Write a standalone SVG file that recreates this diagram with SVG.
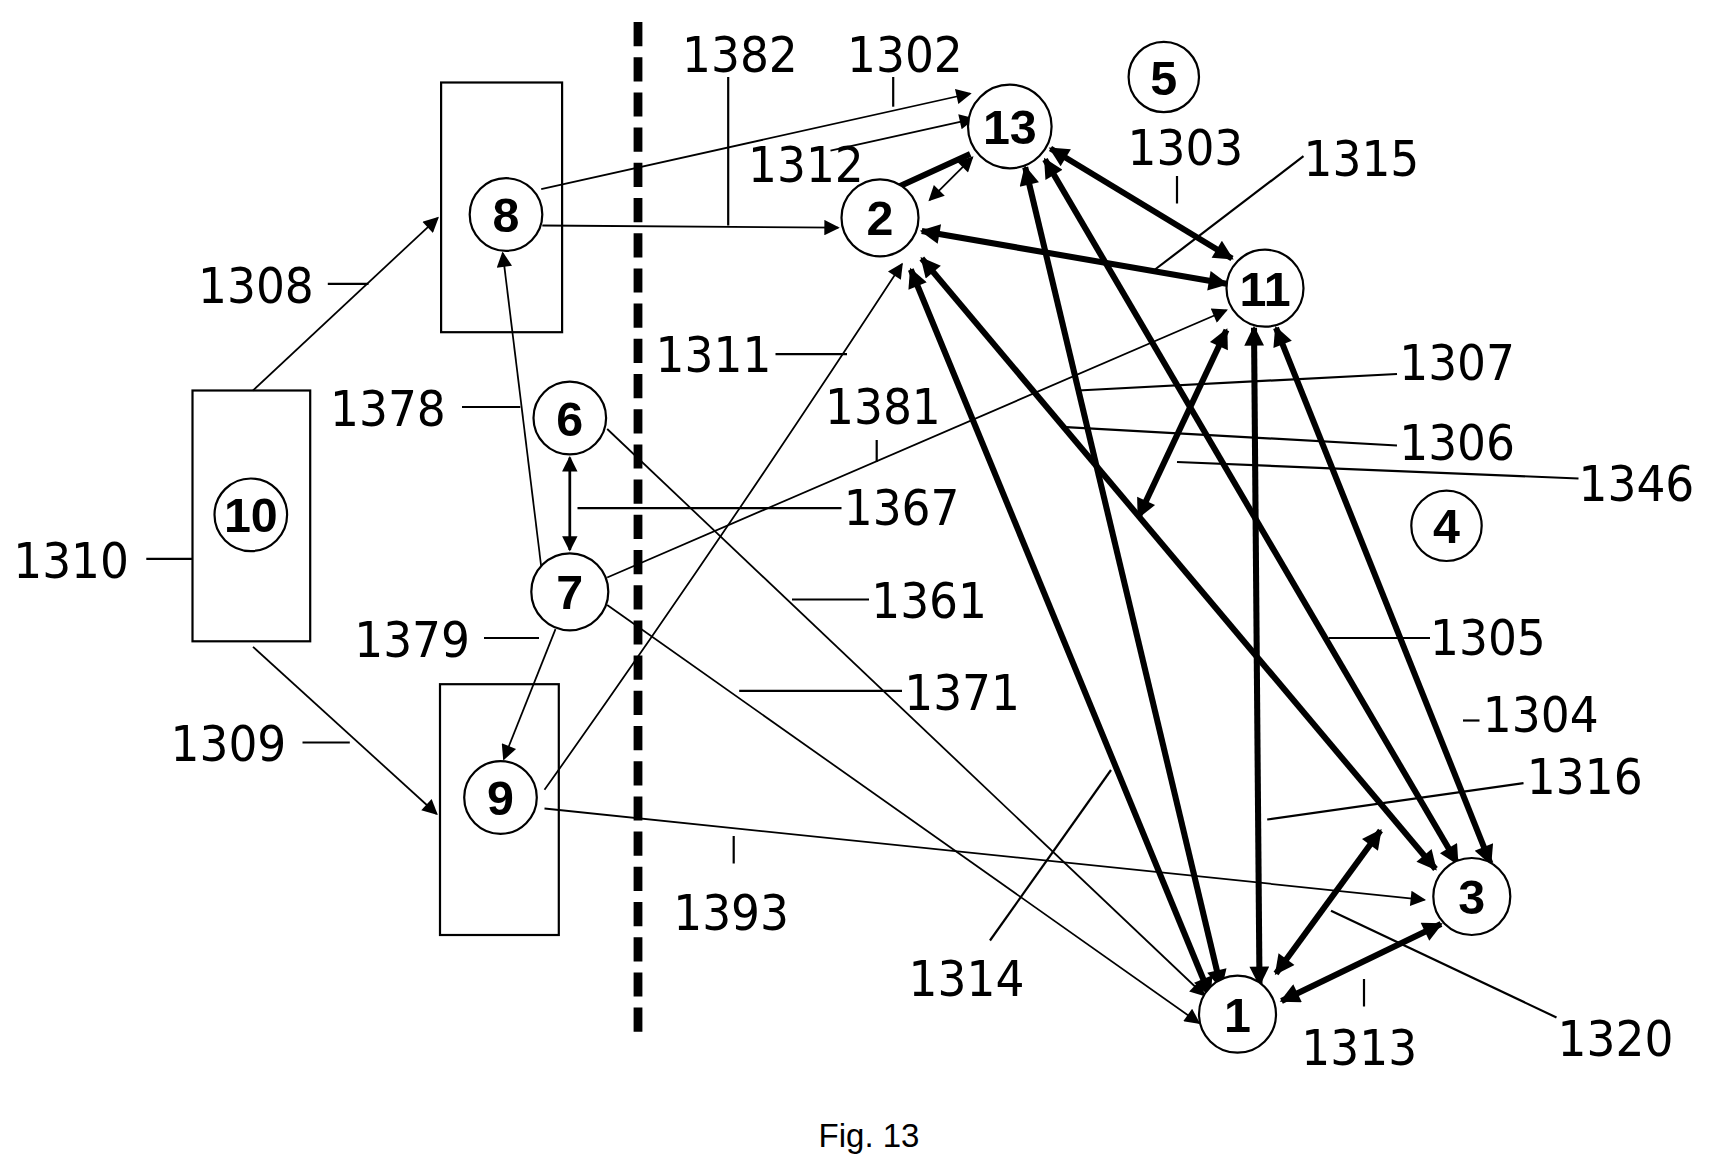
<svg xmlns="http://www.w3.org/2000/svg" width="1717" height="1175" viewBox="0 0 1717 1175">
<defs>
<marker id="a" viewBox="0 0 10 10" refX="9" refY="5" markerWidth="18" markerHeight="14" markerUnits="userSpaceOnUse" orient="auto-start-reverse"><path d="M0,0 L10,5 L0,10 z" fill="#000"/></marker>
<marker id="b" viewBox="0 0 10 10" refX="9" refY="5" markerWidth="22" markerHeight="18" markerUnits="userSpaceOnUse" orient="auto-start-reverse"><path d="M0,0 L10,5 L0,10 z" fill="#000"/></marker>
</defs>
<style>
.t{stroke:#000;stroke-width:1.6;fill:none}
.k{stroke:#000;stroke-width:5.5;fill:none}
.n{fill:#fff;stroke:#000;stroke-width:2}
.r{fill:none;stroke:#000;stroke-width:2}
.l{font-family:"DejaVu Sans Condensed","Liberation Sans",sans-serif;font-size:46px;fill:#000}
.c{font-family:"Liberation Sans",sans-serif;font-size:44px;font-weight:bold;fill:#000;text-anchor:middle}
.ld{stroke:#000;stroke-width:2;fill:none}
</style>
<rect width="1717" height="1175" fill="#fff"/>
<g transform="scale(1.1)">
<line x1="580" y1="20" x2="580" y2="940" stroke="#000" stroke-width="8" stroke-dasharray="22,10"/>
<g id="box8"><rect class="r" x="401" y="75" width="110" height="227"/></g>
<g id="box10"><rect class="r" x="175" y="355" width="107" height="228"/></g>
<g id="box9"><rect class="r" x="400" y="622" width="108" height="228"/></g>
<g id="connectors">
<line class="t" x1="230" y1="355" x2="398" y2="198" marker-end="url(#a)"/>
<line class="t" x1="230" y1="588" x2="397" y2="740" marker-end="url(#a)"/>
<line class="t" x1="493" y1="205" x2="762" y2="207" marker-end="url(#a)"/>
<line class="t" x1="492" y1="172" x2="882" y2="85" marker-end="url(#a)"/>
<line class="t" x1="755" y1="137" x2="885" y2="108" marker-end="url(#a)"/>
<line class="t" x1="845" y1="182" x2="884" y2="143" marker-start="url(#a)" marker-end="url(#a)"/>
<line class="t" x1="492" y1="515" x2="457" y2="230" marker-end="url(#a)"/>
<line class="t" x1="505" y1="572" x2="458" y2="690" marker-end="url(#a)"/>
<line x1="518" y1="416" x2="518" y2="500" stroke="#000" stroke-width="2.5" marker-start="url(#a)" marker-end="url(#a)"/>
<line class="t" x1="552" y1="525" x2="1115" y2="282" marker-end="url(#a)"/>
<path class="t" d="M495,718 Q650,500 820,240" marker-end="url(#a)"/>
<line class="t" x1="552" y1="390" x2="1095" y2="905" marker-end="url(#a)"/>
<line class="t" x1="552" y1="550" x2="1090" y2="930" marker-end="url(#a)"/>
<line class="t" x1="495" y1="735" x2="1295" y2="818" marker-end="url(#a)"/>
<line class="k" x1="882" y1="140" x2="790" y2="182" marker-end="url(#b)"/>
<line class="k" x1="955" y1="135" x2="1120" y2="235" marker-start="url(#b)" marker-end="url(#b)"/>
<line class="k" x1="838" y1="210" x2="1115" y2="258" marker-start="url(#b)" marker-end="url(#b)"/>
<line class="k" x1="828" y1="245" x2="1100" y2="905" marker-start="url(#b)" marker-end="url(#b)"/>
<line class="k" x1="838" y1="235" x2="1305" y2="790" marker-start="url(#b)" marker-end="url(#b)"/>
<line class="k" x1="932" y1="152" x2="1110" y2="898" marker-start="url(#b)" marker-end="url(#b)"/>
<line class="k" x1="950" y1="145" x2="1325" y2="785" marker-start="url(#b)" marker-end="url(#b)"/>
<line class="k" x1="1140" y1="298" x2="1145" y2="895" marker-start="url(#b)" marker-end="url(#b)"/>
<line class="k" x1="1160" y1="298" x2="1355" y2="785" marker-start="url(#b)" marker-end="url(#b)"/>
<line class="k" x1="1115" y1="300" x2="1035" y2="470" marker-start="url(#b)" marker-end="url(#b)"/>
<line class="k" x1="1160" y1="885" x2="1255" y2="755" marker-start="url(#b)" marker-end="url(#b)"/>
<line class="k" x1="1165" y1="910" x2="1310" y2="840" marker-start="url(#b)" marker-end="url(#b)"/>
<g class="ld">
<line x1="298" y1="258" x2="335" y2="258"/>
<line x1="275" y1="675" x2="318" y2="675"/>
<line x1="133" y1="508" x2="175" y2="508"/>
<line x1="662" y1="70" x2="662" y2="205"/>
<line x1="812" y1="70" x2="812" y2="97"/>
<line x1="525" y1="462" x2="765" y2="462"/>
<line x1="797" y1="400" x2="797" y2="420"/>
<line x1="705" y1="322" x2="770" y2="322"/>
<line x1="720" y1="545" x2="790" y2="545"/>
<line x1="672" y1="628" x2="820" y2="628"/>
<line x1="667" y1="760" x2="667" y2="785"/>
<line x1="420" y1="370" x2="473" y2="370"/>
<line x1="440" y1="580" x2="490" y2="580"/>
<line x1="980" y1="355" x2="1270" y2="340"/>
<line x1="965" y1="388" x2="1270" y2="405"/>
<line x1="1070" y1="420" x2="1435" y2="435"/>
<line x1="1208" y1="580" x2="1300" y2="580"/>
<line x1="1330" y1="655" x2="1345" y2="655"/>
<line x1="1152" y1="745" x2="1385" y2="712"/>
<line x1="1210" y1="828" x2="1415" y2="925"/>
<line x1="1240" y1="890" x2="1240" y2="915"/>
<line x1="900" y1="855" x2="1010" y2="700"/>
<line x1="1050" y1="245" x2="1185" y2="142"/>
<line x1="1070" y1="160" x2="1070" y2="185"/>
</g>
</g>
<g id="n8"><circle class="n" cx="460" cy="195" r="33"/><text class="c" x="460" y="211">8</text></g>
<g id="n10"><circle class="n" cx="228" cy="468" r="33"/><text class="c" x="228" y="484">10</text></g>
<g id="n9"><circle class="n" cx="455" cy="725" r="33"/><text class="c" x="455" y="741">9</text></g>
<g id="n6"><circle class="n" cx="518" cy="380" r="33"/><text class="c" x="518" y="396">6</text></g>
<g id="n7"><circle class="n" cx="518" cy="538" r="35"/><text class="c" x="518" y="554">7</text></g>
<g id="n13"><circle class="n" cx="918" cy="115" r="38"/><text class="c" x="918" y="131">13</text></g>
<g id="n2"><circle class="n" cx="800" cy="198" r="35"/><text class="c" x="800" y="214">2</text></g>
<g id="n11"><circle class="n" cx="1150" cy="262" r="35"/><text class="c" x="1150" y="278">11</text></g>
<g id="n4"><circle class="n" cx="1315" cy="478" r="32"/><text class="c" x="1315" y="494">4</text></g>
<g id="n5"><circle class="n" cx="1058" cy="70" r="32"/><text class="c" x="1058" y="86">5</text></g>
<g id="n3"><circle class="n" cx="1338" cy="815" r="35"/><text class="c" x="1338" y="831">3</text></g>
<g id="n1"><circle class="n" cx="1125" cy="922" r="35"/><text class="c" x="1125" y="938">1</text></g>
<g class="l">
<text x="180" y="275">1308</text>
<text x="155" y="692">1309</text>
<text x="12" y="525">1310</text>
<text x="620" y="65">1382</text>
<text x="770" y="65">1302</text>
<text x="680" y="165">1312</text>
<text x="1025" y="150">1303</text>
<text x="1185" y="160">1315</text>
<text x="596" y="338">1311</text>
<text x="300" y="387">1378</text>
<text x="750" y="385">1381</text>
<text x="1272" y="345">1307</text>
<text x="1272" y="418">1306</text>
<text x="1435" y="455">1346</text>
<text x="767" y="477">1367</text>
<text x="792" y="562">1361</text>
<text x="1300" y="595">1305</text>
<text x="322" y="597">1379</text>
<text x="822" y="645">1371</text>
<text x="1348" y="665">1304</text>
<text x="1388" y="722">1316</text>
<text x="612" y="845">1393</text>
<text x="826" y="905">1314</text>
<text x="1183" y="968">1313</text>
<text x="1416" y="960">1320</text>
</g>
<text x="790" y="1043" font-family="Liberation Sans,sans-serif" font-size="30" text-anchor="middle">Fig. 13</text>
</g>
</svg>
